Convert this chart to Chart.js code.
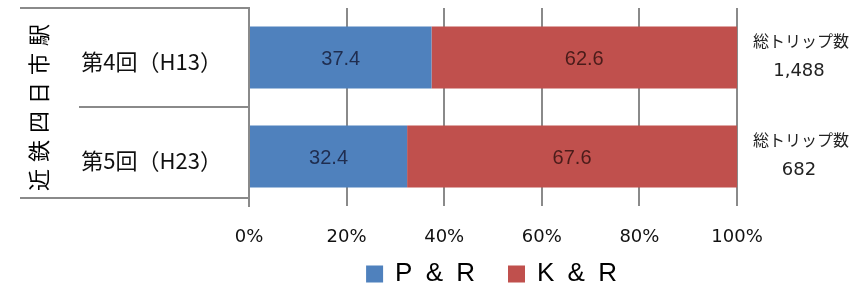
<!DOCTYPE html>
<html>
  <head>
    <style>
      html, body { margin: 0; background: #fff; }
    </style>
  </head>
  <body>
    <canvas id="chart" width="863" height="290"></canvas>

    <script src="https://cdn.jsdelivr.net/npm/chart.js"></script>
    <script>
      // data
      const categories = ["第4回（H13）", "第5回（H23）"];
      const parkRide = [37.4, 32.4];
      const kissRide = [62.6, 67.6];
      const totalTrips = [1488, 682];
      const seriesNames = ["P & R", "K & R"];
      const groupTitle = "近鉄四日市駅";
      const tripLabel = "総トリップ数";

      const blue = "#4F81BD";
      const red = "#C0504D";
      const lineGray = "#8a8a8a";
      const jp = "'Noto Sans CJK JP', 'Noto Sans', sans-serif";

      // extra drawing: the table lines on the left, bar values, trip totals and legend
      const decor = {
        id: "decor",
        afterDatasetsDraw(chart) {
          const ctx = chart.ctx;
          const area = chart.chartArea;
          const y = chart.scales.y;
          ctx.save();

          // values inside each segment
          const labelColors = ["#1f2d4f", "#4a1c1a"];
          chart.data.datasets.forEach(function (ds, i) {
            const meta = chart.getDatasetMeta(i);
            meta.data.forEach(function (el, j) {
              ctx.fillStyle = labelColors[i];
              ctx.font = "20px 'Liberation Sans', Arial, sans-serif";
              ctx.textAlign = "center";
              ctx.textBaseline = "middle";
              ctx.fillText(ds.data[j].toFixed(1), (el.base + el.x) / 2, el.y + 2);
            });
          });

          // table lines on the left
          ctx.strokeStyle = lineGray;
          ctx.lineWidth = 2;
          const mid = (y.getPixelForValue(0) + y.getPixelForValue(1)) / 2;
          ctx.beginPath();
          ctx.moveTo(20, area.top);
          ctx.lineTo(area.left, area.top);
          ctx.moveTo(79, mid);
          ctx.lineTo(area.left, mid);
          ctx.moveTo(20, area.bottom - 8);
          ctx.lineTo(area.left, area.bottom - 8);
          ctx.stroke();

          // vertical group title
          ctx.save();
          ctx.translate(39, (area.top + area.bottom) / 2);
          ctx.rotate(-Math.PI / 2);
          ctx.fillStyle = "#000";
          ctx.font = "22px " + jp;
          ctx.letterSpacing = "7px";
          ctx.textAlign = "center";
          ctx.textBaseline = "middle";
          ctx.fillText(groupTitle, 3, 0);
          ctx.restore();

          // trip totals on the right
          ctx.fillStyle = "#222";
          ctx.textAlign = "center";
          ctx.textBaseline = "middle";
          totalTrips.forEach(function (n, j) {
            const cy = y.getPixelForValue(j);
            ctx.font = "16px " + jp;
            ctx.fillText(tripLabel, 801, cy - 17);
            ctx.font = "18px 'DejaVu Sans', sans-serif";
            ctx.fillText(n.toLocaleString("en-US"), 799, cy + 14);
          });

          // legend, centred under the plot
          ctx.font = "26px 'Liberation Sans', Arial, sans-serif";
          ctx.letterSpacing = "3px";
          const box = 17, gapBox = 12, gapItem = 30;
          const widths = seriesNames.map(function (s) { return ctx.measureText(s).width; });
          let total = 0;
          widths.forEach(function (w) { total += box + gapBox + w; });
          total += gapItem * (seriesNames.length - 1);
          let x = (area.left + area.right) / 2 - total / 2;
          const ly = 274;
          ctx.textAlign = "left";
          seriesNames.forEach(function (s, i) {
            ctx.fillStyle = chart.data.datasets[i].backgroundColor;
            ctx.fillRect(x, ly - box / 2, box, box);
            x += box + gapBox;
            ctx.fillStyle = "#000";
            ctx.fillText(s, x, ly);
            x += widths[i] + gapItem;
          });
          ctx.restore();
        }
      };

      new Chart(document.getElementById("chart"), {
        type: "bar",
        data: {
          labels: categories,
          datasets: [
            { label: seriesNames[0], data: parkRide, backgroundColor: blue },
            { label: seriesNames[1], data: kissRide, backgroundColor: red }
          ]
        },
        options: {
          indexAxis: "y",
          responsive: false,
          animation: false,
          layout: { autoPadding: false, padding: { top: 8, right: 126, left: 0, bottom: 0 } },
          datasets: {
            bar: { barPercentage: 0.625, categoryPercentage: 1 }
          },
          plugins: {
            legend: { display: false },
            tooltip: { enabled: false }
          },
          scales: {
            x: {
              stacked: true,
              min: 0,
              max: 100,
              afterFit: function (scale) {
                scale.height = 84;
                scale.paddingLeft = 0;
                scale.paddingRight = 0;
              },
              grid: { color: lineGray, lineWidth: 2, drawTicks: false },
              border: { display: false },
              ticks: {
                stepSize: 20,
                padding: 21,
                color: "#111",
                font: { family: "'DejaVu Sans', sans-serif", size: 18 },
                callback: function (v) { return v + "%"; }
              }
            },
            y: {
              stacked: true,
              afterFit: function (scale) {
                scale.width = 249;
                scale.paddingTop = 0;
                scale.paddingBottom = 0;
              },
              grid: { display: false, drawTicks: false },
              border: { display: true, color: lineGray, width: 2 },
              ticks: {
                padding: 27,
                labelOffset: 4,
                color: "#111",
                font: { family: jp, size: 22 }
              }
            }
          }
        },
        plugins: [decor]
      });
    </script>
  </body>
</html>
